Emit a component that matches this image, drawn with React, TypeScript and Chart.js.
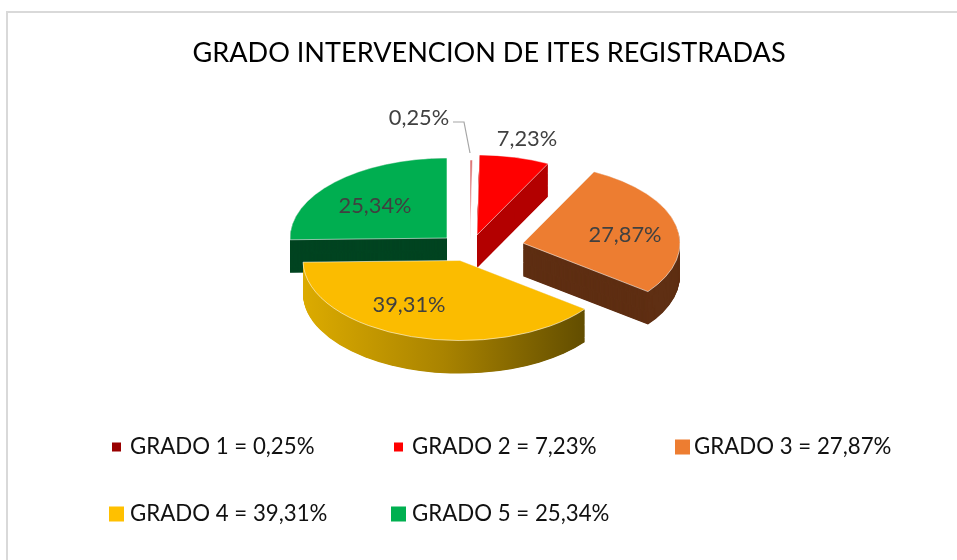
import React, { useEffect, useRef } from "react";
import { Chart, registerables } from "chart.js";

Chart.register(...registerables);

const categories = ["GRADO 1", "GRADO 2", "GRADO 3", "GRADO 4", "GRADO 5"];
const values = [0.25, 7.23, 27.87, 39.31, 25.34];
const topColors = ["rgba(205,60,60,0.75)", "#ff0000", "#ed7d31", "#fbbc00", "#00ae50"];
const legendColors = ["#990000", "#ff0000", "#ed7d31", "#ffc000", "#00b050"];
const wallColors = [null, "#b30000", "#5f2f13", "gradient", "#004421"];
const explodeX = [0, 7, 53, -10, -23];
const explodeY = [-18, -28, -12, 22, -22];

const FONT = "Lato, Carlito, Calibri, sans-serif";
const SQUASH = 0.51;
const DEPTH = 33;
const PIE_SHIFT_X = -19;
const fmt = (v: number) => v.toFixed(2).replace(".", ",") + "%";

// label centres relative to each slice apex, in page pixels
const labelOffsets = [
  [-51, -122],
  [50, -96],
  [102, -8],
  [-51, 44],
  [-72, -32],
];
const legendLayout = [
  { bx: 112, size: 9, tx: 130, y: 447 },
  { bx: 394, size: 9, tx: 412, y: 447 },
  { bx: 675, size: 15, tx: 694, y: 447 },
  { bx: 109, size: 15, tx: 130, y: 514 },
  { bx: 391, size: 15, tx: 412, y: 514 },
];

const pie3d = {
  id: "pie3d",
  afterDatasetUpdate(chart: any) {
    chart.getDatasetMeta(0).data.forEach((el: any, i: number) => {
      el.x += PIE_SHIFT_X + explodeX[i];
      el.y += explodeY[i];
    });
  },
  beforeDatasetDraw(chart: any) {
    const ctx = chart.ctx;
    const area = chart.chartArea;
    const cy = (area.top + area.bottom) / 2;
    ctx.save();
    ctx.translate(0, cy * (1 - SQUASH));
    ctx.scale(1, SQUASH);
    const arcs = [...chart.getDatasetMeta(0).data].map((el: any, i: number) => ({ el, i }));
    arcs.sort(
      (a: any, b: any) =>
        Math.sin((a.el.startAngle + a.el.endAngle) / 2) - Math.sin((b.el.startAngle + b.el.endAngle) / 2)
    );
    const depth = DEPTH / SQUASH;
    for (const { el, i } of arcs) {
      const wall = wallColors[i];
      if (!wall) continue;
      let fill: any = wall;
      if (wall === "gradient") {
        const g = ctx.createLinearGradient(el.x - el.outerRadius, 0, el.x + Math.cos(el.startAngle) * el.outerRadius, 0);
        g.addColorStop(0, "#dcab00");
        g.addColorStop(0.5, "#a98300");
        g.addColorStop(1, "#624d00");
        fill = g;
      }
      ctx.fillStyle = fill;
      for (let d = depth; d >= 0; d -= 1) {
        ctx.beginPath();
        ctx.moveTo(el.x, el.y + d);
        ctx.arc(el.x, el.y + d, el.outerRadius, el.startAngle, el.endAngle);
        ctx.closePath();
        ctx.fill();
      }
    }
  },
  afterDatasetDraw(chart: any) {
    chart.ctx.restore();
  },
  afterDatasetsDraw(chart: any) {
    const ctx = chart.ctx;
    const area = chart.chartArea;
    const cy = (area.top + area.bottom) / 2;
    ctx.save();
    // leader line of the smallest slice
    ctx.strokeStyle = "#a6a6a6";
    ctx.lineWidth = 1.2;
    ctx.beginPath();
    ctx.moveTo(453, 122);
    ctx.lineTo(464, 122);
    ctx.lineTo(470, 153);
    ctx.stroke();

    ctx.font = `21.8px ${FONT}`;
    ctx.fillStyle = "#404040";
    ctx.textAlign = "center";
    ctx.textBaseline = "middle";
    chart.getDatasetMeta(0).data.forEach((el: any, i: number) => {
      const ax = el.x;
      const ay = cy + (el.y - cy) * SQUASH;
      ctx.fillText(fmt(values[i]), ax + labelOffsets[i][0], ay + labelOffsets[i][1]);
    });

    // legend
    ctx.font = `22.25px ${FONT}`;
    ctx.textAlign = "left";
    categories.forEach((c, i) => {
      const l = legendLayout[i];
      ctx.fillStyle = legendColors[i];
      ctx.fillRect(l.bx, l.y - l.size / 2, l.size, l.size);
      ctx.fillStyle = "#111111";
      ctx.fillText(`${c} = ${fmt(values[i])}`, l.tx, l.y);
    });
    ctx.restore();
  },
};

export default function App() {
  const ref = useRef<HTMLCanvasElement>(null);
  useEffect(() => {
    const chart = new Chart(ref.current as HTMLCanvasElement, {
      type: "pie",
      data: {
        labels: categories,
        datasets: [
          {
            data: values,
            backgroundColor: topColors,
            borderColor: "rgba(255,255,255,0.75)",
            borderWidth: 1,
            clip: false,
          } as any,
        ],
      },
      options: {
        responsive: false,
        animation: false,
        radius: 157,
        rotation: 0,
        layout: { padding: { left: 0, right: 0, top: 0, bottom: 140 } },
        plugins: {
          legend: { display: false },
          tooltip: { enabled: false },
          title: {
            display: true,
            text: "GRADO INTERVENCION DE ITES REGISTRADAS",
            color: "#000000",
            font: { family: FONT, size: 27.1, weight: "normal", lineHeight: 1.2 },
            padding: { top: 37, bottom: 9 },
          },
        },
      } as any,
      plugins: [pie3d],
    });
    return () => chart.destroy();
  }, []);
  return (
    <div style={{ position: "fixed", inset: 0, overflow: "hidden", background: "#fff" }}>
      <div
        style={{
          position: "absolute",
          left: 6,
          top: 11,
          width: 1000,
          height: 600,
          borderLeft: "2px solid #d9d9d9",
          borderTop: "2px solid #d9d9d9",
        }}
      />
      <canvas ref={ref} width={978} height={560} style={{ position: "absolute", left: 0, top: 0, display: "block" }} />
    </div>
  );
}
